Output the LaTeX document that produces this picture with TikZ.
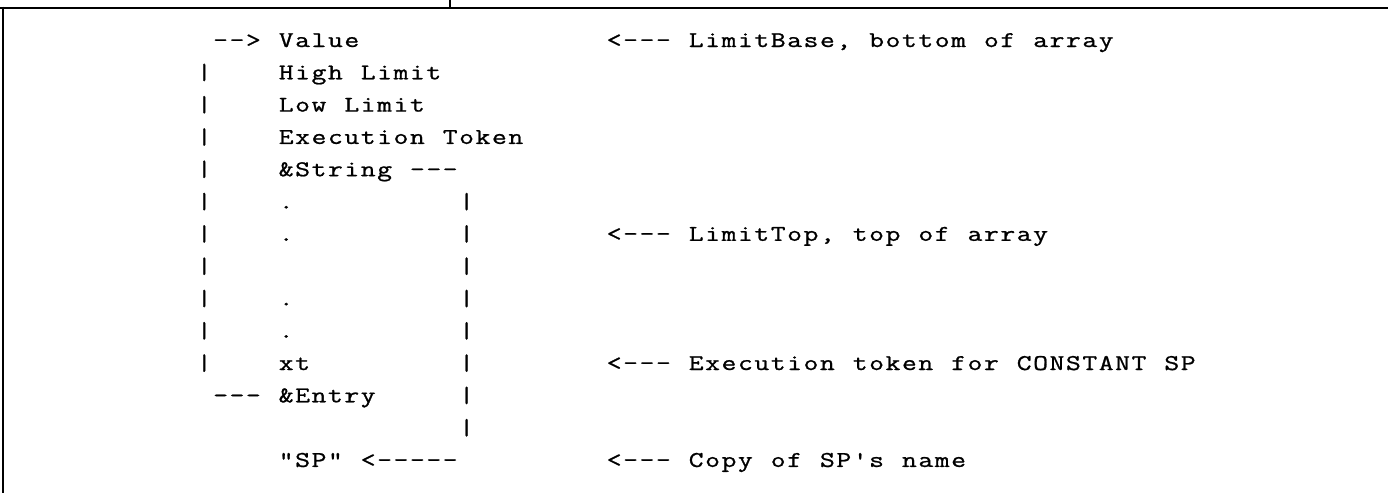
\documentclass[tikz,border=0pt]{standalone}
\usepackage{fontspec}
\usepackage{graphicx}
\newfontfamily\courfont{Latin Modern Mono}[FakeBold=0.9]
\newlength\cellw
\setlength\cellw{16.4pt}
\ExplSyntaxOn
\NewDocumentCommand\mono{m}{\str_map_inline:nn{#1}{\makebox[\cellw][c]{\scalebox{1.28}[1]{##1}}}}
\ExplSyntaxOff
\begin{document}
\begin{tikzpicture}[x=1pt,y=-1pt,
  txt/.style={inner sep=0pt, outer sep=0pt, anchor=base west,
    font=\courfont\fontsize{22.5}{24}\selectfont},
  frame/.style={line width=2pt, black}]
\useasboundingbox (0,0) rectangle (1388,493);
% frame
\coordinate (tl) at (0,7.5);
\coordinate (tr) at (1388,7.5);
\coordinate (lt) at (3,6.5);
\coordinate (lb) at (3,493);
\coordinate (kt) at (450,0);
\coordinate (kb) at (450,7.5);
\draw[frame] (tl) -- (tr);
\draw[frame] (lt) -- (lb);
\draw[frame] (kt) -- (kb);
% row 0
\node[txt] (a0) at (212.4,47) {\mono{-->}};
\node[txt] (value) at (278,47) {\mono{Value}};
\node[txt] (b0) at (606,47) {\mono{<---}};
\node[txt] (limbase) at (688,47) {\mono{LimitBase, bottom of array}};
% rows 1-4
\node[txt] (l1) at (196,79.3) {\mono{|}};
\node[txt] (high) at (278,79.3) {\mono{High Limit}};
\node[txt] (l2) at (196,111.6) {\mono{|}};
\node[txt] (low) at (278,111.6) {\mono{Low Limit}};
\node[txt] (l3) at (196,143.9) {\mono{|}};
\node[txt] (exec) at (278,143.9) {\mono{Execution Token}};
\node[txt] (l4) at (196,176.2) {\mono{|}};
\node[txt] (string) at (278,176.2) {\mono{&String}};
\node[txt] (s4) at (409.2,176.2) {\mono{---}};
% row 5
\node[txt] (l5) at (196,208.5) {\mono{|}};
\node[txt] (d5) at (278,208.5) {\mono{.}};
\node[txt] (r5) at (458.4,208.5) {\mono{|}};
% row 6
\node[txt] (l6) at (196,240.8) {\mono{|}};
\node[txt] (d6) at (278,240.8) {\mono{.}};
\node[txt] (r6) at (458.4,240.8) {\mono{|}};
\node[txt] (b6) at (606,240.8) {\mono{<---}};
\node[txt] (limtop) at (688,240.8) {\mono{LimitTop, top of array}};
% row 7
\node[txt] (l7) at (196,273.1) {\mono{|}};
\node[txt] (r7) at (458.4,273.1) {\mono{|}};
% row 8
\node[txt] (l8) at (196,305.4) {\mono{|}};
\node[txt] (d8) at (278,305.4) {\mono{.}};
\node[txt] (r8) at (458.4,305.4) {\mono{|}};
% row 9
\node[txt] (l9) at (196,337.7) {\mono{|}};
\node[txt] (d9) at (278,337.7) {\mono{.}};
\node[txt] (r9) at (458.4,337.7) {\mono{|}};
% row 10
\node[txt] (l10) at (196,370) {\mono{|}};
\node[txt] (xt) at (278,370) {\mono{xt}};
\node[txt] (r10) at (458.4,370) {\mono{|}};
\node[txt] (b10) at (606,370) {\mono{<---}};
\node[txt] (xtnote) at (688,370) {\mono{Execution token for CONSTANT SP}};
% row 11
\node[txt] (a11) at (212.4,402.3) {\mono{---}};
\node[txt] (entry) at (278,402.3) {\mono{&Entry}};
\node[txt] (r11) at (458.4,402.3) {\mono{|}};
% row 12
\node[txt] (r12) at (458.4,434.6) {\mono{|}};
% row 13
\node[txt] (sp) at (278,466.9) {\mono{"SP"}};
\node[txt] (a13) at (360,466.9) {\mono{<-----}};
\node[txt] (b13) at (606,466.9) {\mono{<---}};
\node[txt] (copy) at (688,466.9) {\mono{Copy of SP's name}};
\end{tikzpicture}
\end{document}
